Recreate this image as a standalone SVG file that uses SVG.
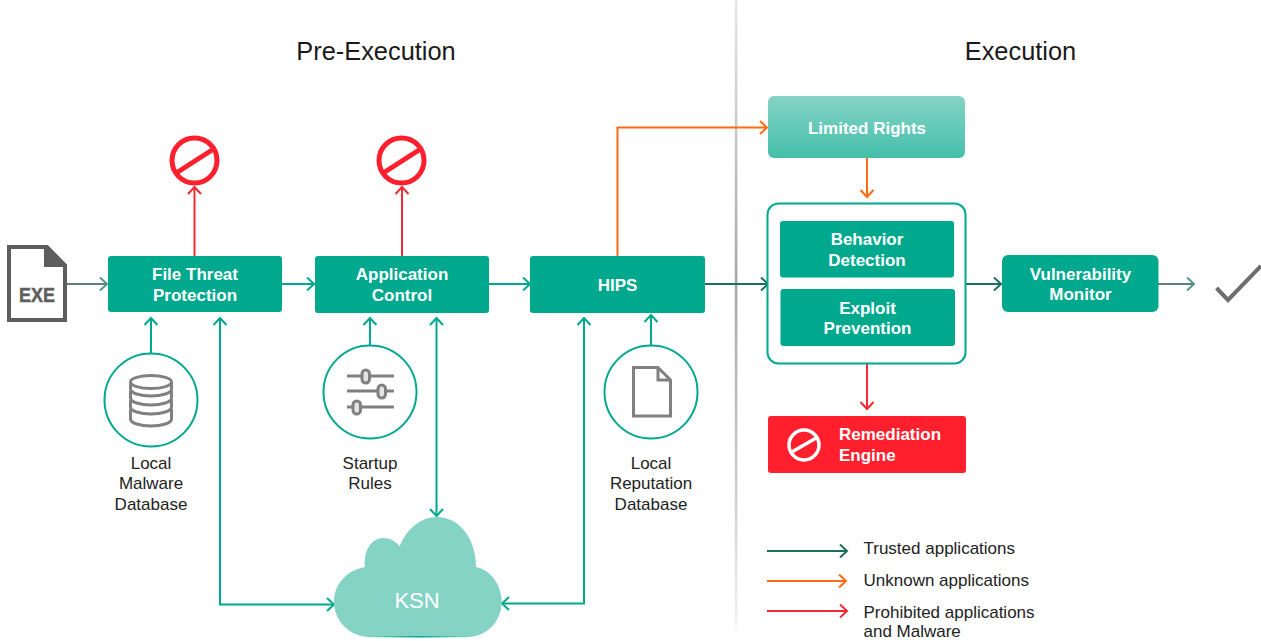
<svg xmlns="http://www.w3.org/2000/svg" width="1261" height="641" viewBox="0 0 1261 641">
<style>
text{font-family:"Liberation Sans",Arial,sans-serif}
.title{font-size:25.400px;fill:#1a1a1a;text-anchor:middle}
.lbl{font-size:17px;fill:#222;text-anchor:middle}
.leg{font-size:17px;fill:#222}
.box{fill:#00a88e}
.bt{font-size:17px;font-weight:bold;fill:#fff;text-anchor:middle}
.c{fill:none;stroke-width:2}
.g{stroke:#00a88e}.t{stroke:#1d6f61}.o{stroke:#ff6a13}.r{stroke:#ef2b34}.e{stroke:#5f7f78}
.ring{fill:#fff;stroke:#00a88e;stroke-width:2}
.ic{fill:none;stroke:#808080;stroke-width:3}
.no{fill:none;stroke:#ff1f2d;stroke-width:5}
</style>
<defs>
<marker id="mg" markerUnits="userSpaceOnUse" markerWidth="16" markerHeight="16" refX="12" refY="8" orient="auto"><path d="M5 1.500L12 8L5 14.500" fill="none" stroke="#00a88e" stroke-width="2"/></marker>
<marker id="mt" markerUnits="userSpaceOnUse" markerWidth="16" markerHeight="16" refX="12" refY="8" orient="auto"><path d="M5 1.500L12 8L5 14.500" fill="none" stroke="#1d6f61" stroke-width="2"/></marker>
<marker id="mo" markerUnits="userSpaceOnUse" markerWidth="16" markerHeight="16" refX="12" refY="8" orient="auto"><path d="M5 1.500L12 8L5 14.500" fill="none" stroke="#ff6a13" stroke-width="2"/></marker>
<marker id="mr" markerUnits="userSpaceOnUse" markerWidth="16" markerHeight="16" refX="12" refY="8" orient="auto"><path d="M5 1.500L12 8L5 14.500" fill="none" stroke="#ef2b34" stroke-width="2"/></marker>
<marker id="me" markerUnits="userSpaceOnUse" markerWidth="16" markerHeight="16" refX="12" refY="8" orient="auto"><path d="M5 1.500L12 8L5 14.500" fill="none" stroke="#4f9a8a" stroke-width="2"/></marker>
<linearGradient id="lim" x1="0" y1="0" x2="0" y2="1"><stop offset="0" stop-color="#85d3c5"/><stop offset="1" stop-color="#45bfaa"/></linearGradient>
<linearGradient id="div" x1="0" y1="0" x2="0" y2="1"><stop offset="0" stop-color="#e6e6e6"/><stop offset=".45" stop-color="#a6a6a6"/><stop offset=".8" stop-color="#d0d0d0"/><stop offset="1" stop-color="#f2f2f2"/></linearGradient>
<linearGradient id="base" x1="0" y1="0" x2="1" y2="0"><stop offset="0" stop-color="#00a88e" stop-opacity="0"/><stop offset=".5" stop-color="#00a88e"/><stop offset="1" stop-color="#00a88e" stop-opacity="0"/></linearGradient>
</defs>

<rect id="divider" x="734.800" y="0" width="2.600" height="626" fill="url(#div)"/>
<text class="title" x="376" y="60">Pre-Execution</text>
<text class="title" x="1020.500" y="60">Execution</text>

<g id="connectors">
<path class="c e" d="M67 284H107" marker-end="url(#me)"/>
<path class="c g" d="M282 284H314" marker-end="url(#mg)"/>
<path class="c g" d="M489 284H530" marker-end="url(#mg)"/>
<path class="c t" d="M705 284H768" marker-end="url(#mt)"/>
<path class="c t" d="M966 284H1001" marker-end="url(#mt)"/>
<path class="c e" d="M1158 284H1194" marker-end="url(#me)"/>
<path class="c r" d="M194.500 256V187" marker-end="url(#mr)"/>
<path class="c r" d="M402 256V187" marker-end="url(#mr)"/>
<path class="c o" d="M617.500 256V127.500H767" marker-end="url(#mo)"/>
<path class="c o" d="M867 158V197" marker-end="url(#mo)"/>
<path class="c r" d="M867 364V409" marker-end="url(#mr)"/>
<path class="c g" d="M151 354V318" marker-end="url(#mg)"/>
<path class="c g" d="M370 346V318" marker-end="url(#mg)"/>
<path class="c g" d="M651 346V315" marker-end="url(#mg)"/>
<path class="c g" d="M220 318V604.500H334" marker-end="url(#mg)"/>
<path class="c g" d="M213.500 325L220 318L226.500 325"/>
<path class="c g" d="M436.500 318V516" marker-end="url(#mg)"/>
<path class="c g" d="M430 325L436.500 318L443 325"/>
<path class="c g" d="M584 318V603.500H502" marker-end="url(#mg)"/>
<path class="c g" d="M577.500 325L584 318L590.500 325"/>
</g>

<g id="exe">
<path d="M9 247H47L65 265.500V320H9Z" fill="#fff" stroke="#5e5e5e" stroke-width="4"/>
<path d="M44 245H47L67 265V267H44Z" fill="#5e5e5e"/>
<text x="37" y="302" font-size="21" font-weight="bold" fill="#5e5e5e" stroke="#5e5e5e" stroke-width=".5" text-anchor="middle" textLength="36" lengthAdjust="spacingAndGlyphs">EXE</text>
</g>

<g id="block-1"><circle class="no" cx="194.500" cy="160.500" r="22.500"/><path class="no" d="M177 172.500L212 150"/></g>
<g id="block-2"><circle class="no" cx="401.500" cy="160.500" r="22.500"/><path class="no" d="M384 172.500L419 150"/></g>

<g id="file-threat"><rect class="box" x="108" y="256" width="174" height="56" rx="3"/><text class="bt" x="195" y="280">File Threat</text><text class="bt" x="195" y="301">Protection</text></g>
<g id="app-control"><rect class="box" x="315" y="256" width="174" height="57" rx="3"/><text class="bt" x="402" y="280">Application</text><text class="bt" x="402" y="301">Control</text></g>
<g id="hips"><rect class="box" x="530" y="256" width="175" height="57" rx="3"/><text class="bt" x="617.500" y="291">HIPS</text></g>
<g id="limited-rights"><rect x="768" y="96" width="197" height="62" rx="6" fill="url(#lim)"/><text class="bt" x="867" y="134">Limited Rights</text></g>
<g id="execution-group"><rect x="767.500" y="203.500" width="198" height="160" rx="11" fill="#fff" stroke="#00a88e" stroke-width="2"/></g>
<g id="behavior"><rect class="box" x="780" y="221" width="174" height="56.500" rx="3"/><text class="bt" x="867" y="245">Behavior</text><text class="bt" x="867" y="266">Detection</text></g>
<g id="exploit"><rect class="box" x="780.500" y="289" width="174.500" height="57" rx="3"/><text class="bt" x="867.500" y="314">Exploit</text><text class="bt" x="867.500" y="334">Prevention</text></g>
<g id="vulnerability"><rect class="box" x="1002" y="255" width="156.500" height="57" rx="6"/><text class="bt" x="1080.500" y="280">Vulnerability</text><text class="bt" x="1080.500" y="300">Monitor</text></g>
<g id="remediation"><rect x="768" y="416" width="198" height="57" rx="3" fill="#ff1f2d"/>
<circle cx="804" cy="445" r="15" fill="none" stroke="#fff" stroke-width="3.500"/><path d="M791 452.500L817 437.500" stroke="#fff" stroke-width="3.500"/>
<text class="bt" x="839" y="440" style="text-anchor:start">Remediation</text><text class="bt" x="839" y="461" style="text-anchor:start">Engine</text></g>

<path id="check" d="M1216.500 288L1228 300L1261 266" fill="none" stroke="#6e6e6e" stroke-width="4"/>

<g id="local-malware"><circle class="ring" cx="151" cy="400" r="46.500"/>
<g class="ic"><ellipse cx="151" cy="382" rx="20.500" ry="6.500"/>
<path d="M130.500 382V389C130.500 393 140 396 151 396S171.500 393 171.500 389V382"/>
<path d="M130.500 391V398C130.500 402 140 405 151 405S171.500 402 171.500 398V391"/>
<path d="M130.500 400V407C130.500 411 140 414 151 414S171.500 411 171.500 407V400"/>
<path d="M130.500 409V419C130.500 423 140 426 151 426S171.500 423 171.500 419V409"/></g>
<text class="lbl" x="151" y="469">Local</text><text class="lbl" x="151" y="489">Malware</text><text class="lbl" x="151" y="510">Database</text></g>

<g id="startup-rules"><circle class="ring" cx="370" cy="392" r="46.500"/>
<path class="ic" d="M347 376H394M347 391H394M347 407H394"/>
<g fill="#e4e4e4" stroke="#808080" stroke-width="3"><rect x="362" y="370" width="7.500" height="13" rx="3.700"/><rect x="378" y="385" width="7.500" height="13" rx="3.700"/><rect x="353" y="401" width="7.500" height="13" rx="3.700"/></g>
<text class="lbl" x="370" y="469">Startup</text><text class="lbl" x="370" y="489">Rules</text></g>

<g id="local-reputation"><circle class="ring" cx="651" cy="392" r="46.500"/>
<path d="M633.500 367.500H658L670.500 380V416H633.500Z" fill="#fff" stroke="#808080" stroke-width="3"/><path d="M658 367.500V380H670.500" fill="none" stroke="#808080" stroke-width="3"/>
<text class="lbl" x="651" y="469">Local</text><text class="lbl" x="651" y="489">Reputation</text><text class="lbl" x="651" y="510">Database</text></g>

<g id="ksn"><path d="M370 637C349 637 334 620 334 602C334 584 347 570 365 567C363 552 371 538 383 538C390 538 396 541 399.500 546.500C406 530 420 517 437 517C459 517 476 538 476 567C491 570 501.700 585 501.700 602C501.700 621 487 637 467 637Z" fill="#85d3c5"/>
<rect x="365" y="636" width="107" height="1.500" fill="url(#base)"/>
<text x="417" y="608" font-size="22" fill="#fff" text-anchor="middle">KSN</text></g>

<g id="legend">
<path class="c t" d="M767 551H847" marker-end="url(#mt)"/><text class="leg" x="863.500" y="554">Trusted applications</text>
<path class="c o" d="M767 581H846" marker-end="url(#mo)"/><text class="leg" x="863.500" y="586">Unknown applications</text>
<path class="c r" d="M767 611H847" marker-end="url(#mr)"/><text class="leg" x="863.500" y="618">Prohibited applications</text><text class="leg" x="863.500" y="637">and Malware</text>
</g>
</svg>
